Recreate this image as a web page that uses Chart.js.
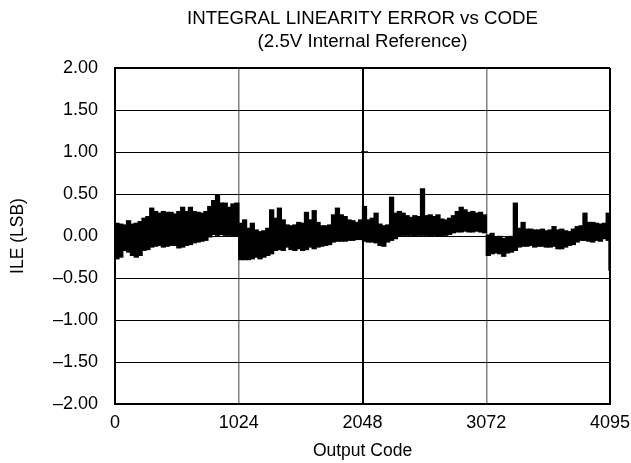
<!DOCTYPE html>
<html>
<head>
<meta charset="utf-8">
<script src="https://cdn.jsdelivr.net/npm/chart.js@4.4.1/dist/chart.umd.min.js"></script>
<style>
  html, body { margin: 0; padding: 0; background: #fff; }
  #wrap { width: 631px; height: 463px; }
</style>
</head>
<body>
<div id="wrap"><canvas id="ileChart"></canvas></div>
<script>
const titleLines = ['INTEGRAL LINEARITY ERROR vs CODE', '(2.5V Internal Reference)'];
const xTitle = 'Output Code';
const yTitle = 'ILE (LSB)';
const xTickCodes = [0, 1024, 2048, 3072, 4095];
const yTickStep = 0.5;
const codesPerBin = 32;

// top and bottom edge of the ILE trace, one value per 32-code bin
const ileHigh = [
  0.15, 0.14, 0.13, 0.18, 0.14, 0.15, 0.17, 0.21, 0.23, 0.33, 0.29, 0.27, 0.29, 0.28, 0.28, 0.26,
  0.29, 0.34, 0.29, 0.34, 0.29, 0.28, 0.27, 0.29, 0.35, 0.42, 0.48, 0.39, 0.39, 0.34, 0.38, 0.39,
  0.15, 0.19, 0.09, 0.15, 0.07, 0.05, 0.06, 0.09, 0.31, 0.21, 0.33, 0.19, 0.13, 0.12, 0.13, 0.16,
  0.15, 0.28, 0.19, 0.30, 0.16, 0.12, 0.12, 0.13, 0.25, 0.33, 0.25, 0.23, 0.19, 0.18, 0.16, 0.19,
  0.35, 0.19, 0.21, 0.27, 0.14, 0.12, 0.13, 0.46, 0.27, 0.29, 0.27, 0.24, 0.22, 0.24, 0.23, 0.56,
  0.24, 0.25, 0.23, 0.25, 0.20, 0.19, 0.21, 0.24, 0.29, 0.34, 0.31, 0.28, 0.29, 0.27, 0.28, 0.25,
  0.01, 0.03, -0.01, 0.00, -0.03, -0.01, 0.00, 0.39, 0.09, 0.16, 0.08, 0.08, 0.07, 0.07, 0.08, 0.06,
  0.07, 0.11, 0.07, 0.08, 0.06, 0.05, 0.08, 0.11, 0.12, 0.27, 0.16, 0.16, 0.15, 0.14, 0.15, 0.27,
];
const ileLow = [
  -0.27, -0.25, -0.17, -0.19, -0.23, -0.25, -0.23, -0.17, -0.16, -0.13, -0.12, -0.11, -0.13, -0.12, -0.11, -0.11,
  -0.14, -0.13, -0.11, -0.10, -0.08, -0.07, -0.06, -0.05, -0.01, 0.02, 0.01, 0.02, 0.01, 0.01, 0.00, 0.00,
  -0.28, -0.28, -0.28, -0.27, -0.25, -0.27, -0.25, -0.23, -0.21, -0.17, -0.16, -0.17, -0.13, -0.16, -0.17, -0.15,
  -0.17, -0.16, -0.13, -0.15, -0.13, -0.12, -0.11, -0.10, -0.07, -0.06, -0.06, -0.06, -0.05, -0.05, -0.04, -0.04,
  -0.06, -0.07, -0.07, -0.08, -0.11, -0.12, -0.07, -0.05, -0.03, 0.00, 0.01, 0.01, 0.01, 0.00, 0.01, 0.01,
  0.01, 0.00, 0.01, 0.00, 0.00, 0.01, 0.02, 0.04, 0.05, 0.05, 0.06, 0.05, 0.05, 0.06, 0.05, 0.04,
  -0.23, -0.21, -0.20, -0.21, -0.24, -0.20, -0.19, -0.17, -0.13, -0.12, -0.12, -0.11, -0.13, -0.12, -0.12, -0.13,
  -0.13, -0.12, -0.15, -0.15, -0.13, -0.11, -0.10, -0.07, -0.05, -0.05, -0.06, -0.07, -0.05, -0.06, -0.03, -0.05,
];

// narrow features drawn on their own
const spikeCodes = [4092];
const spikeLow = [-0.41];
const spikeHigh = [0.05];
const markCodes = [2064];
const markValues = [1.0];

Chart.defaults.font.family = '"Liberation Sans", Arial, sans-serif';
Chart.defaults.color = '#000';

const titlePlugin = {
  id: 'plotTitle',
  afterDraw(chart) {
    const { ctx, chartArea } = chart;
    const cx = (chartArea.left + chartArea.right) / 2;
    ctx.save();
    ctx.fillStyle = '#000';
    ctx.font = '18.7px "Liberation Sans", Arial, sans-serif';
    ctx.textAlign = 'center';
    ctx.textBaseline = 'alphabetic';
    ctx.fillText(titleLines[0], cx, 24);
    ctx.fillText(titleLines[1], cx, 47);
    ctx.restore();
  },
};

function xGridColor(ctx) {
  const v = ctx.tick.value;
  return v === 1024 || v === 3072 ? '#7f7f7f' : '#000';
}
function xGridWidth(ctx) {
  const v = ctx.tick.value;
  return v === 1024 || v === 3072 ? 1.5 : 2;
}

const bandData = ileHigh.map((hi, i) => ({
  x: i * codesPerBin + codesPerBin / 2,
  y: [ileLow[i], hi],
}));
const spikeData = spikeCodes.map((c, i) => ({ x: c, y: [spikeLow[i], spikeHigh[i]] }));
const markData = markCodes.map((c, i) => ({ x: c, y: markValues[i] }));

const config = {
  type: 'bar',
  data: {
    datasets: [
      {
        label: 'ILE',
        data: bandData,
        backgroundColor: '#000',
        borderWidth: 0,
        barPercentage: 1,
        categoryPercentage: 1,
        inflateAmount: 0.7,
        grouped: false,
        xAxisID: 'x',
      },
      {
        label: 'spikes',
        data: spikeData,
        backgroundColor: '#000',
        borderWidth: 0,
        barThickness: 2,
        grouped: false,
        xAxisID: 'x2',
      },
      {
        type: 'scatter',
        label: 'mark',
        data: markData,
        pointStyle: 'line',
        pointRadius: 3.5,
        borderColor: '#000',
        borderWidth: 1.5,
        xAxisID: 'x',
      },
    ],
  },
  options: {
    responsive: true,
    maintainAspectRatio: false,
    animation: false,
    layout: { autoPadding: false, padding: { top: 68, right: 21, bottom: 0, left: 0 } },
    plugins: {
      legend: { display: false },
      tooltip: { enabled: false },
    },
    scales: {
      x: {
        type: 'linear',
        min: 0,
        max: 4095,
        offset: false,
        afterBuildTicks: (scale) => {
          scale.ticks = xTickCodes.map((v) => ({ value: v }));
        },
        afterFit: (scale) => {
          scale.height = 59;
          scale.paddingLeft = 0;
          scale.paddingRight = 0;
        },
        grid: { offset: false, drawTicks: false, color: xGridColor, lineWidth: xGridWidth },
        border: { color: '#000', width: 2 },
        ticks: {
          padding: 8,
          maxRotation: 0,
          autoSkip: false,
          font: { size: 18 },
          callback: (v) => String(v),
        },
        title: { display: true, text: xTitle, font: { size: 17.5 }, padding: { top: 0, bottom: 1 } },
      },
      x2: {
        type: 'linear',
        min: 0,
        max: 4095,
        offset: false,
        display: false,
      },
      y: {
        type: 'linear',
        min: -2,
        max: 2,
        afterFit: (scale) => {
          scale.width = 115;
        },
        grid: {
          drawTicks: false,
          color: '#000',
          lineWidth: (ctx) => (ctx.tick.value === 2 ? 2 : 1),
        },
        border: { color: '#000', width: 2 },
        ticks: {
          stepSize: yTickStep,
          padding: 17,
          font: { size: 18 },
          callback: (v) => (v < 0 ? '\u2013' : '') + Math.abs(v).toFixed(2),
        },
        title: { display: true, text: yTitle, font: { size: 17.5 }, padding: { top: 8 } },
      },
    },
  },
  plugins: [titlePlugin],
};

const ileChart = new Chart(document.getElementById('ileChart'), config);
</script>
</body>
</html>
